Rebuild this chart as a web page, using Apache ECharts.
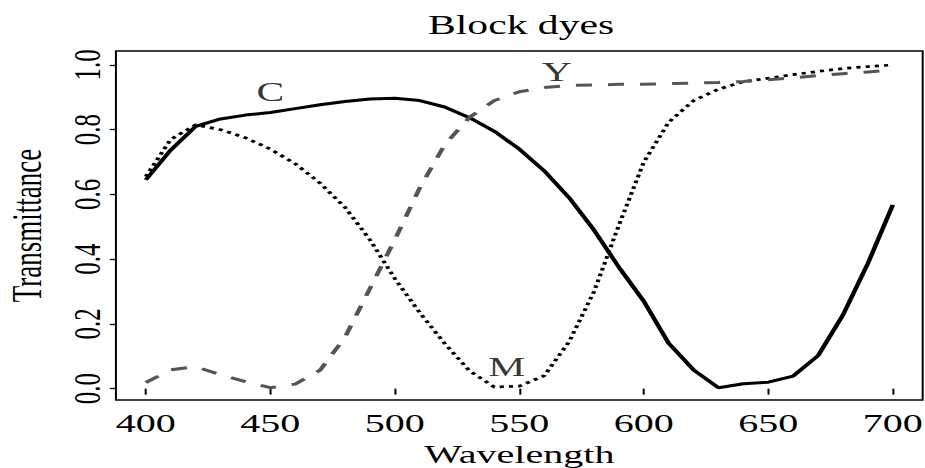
<!DOCTYPE html>
<html>
<head>
<meta charset="utf-8">
<script src="https://cdn.jsdelivr.net/npm/echarts@6/dist/echarts.min.js"></script>
<style>
html,body{margin:0;padding:0;background:#fff;}
#wrap{width:925px;height:468px;overflow:hidden;position:relative;}
#chart{width:600px;height:468px;transform:scaleX(1.5416667);transform-origin:0 0;}
</style>
</head>
<body>
<div id="wrap"><div id="chart"></div></div>
<script>
// Data
var wavelengths = [400,410,420,430,440,450,460,470,480,490,500,510,520,530,540,550,560,570,580,590,600,610,620,630,640,650,660,670,680,690,700];
var cyanDye = [0.645,0.737,0.81,0.833,0.845,0.853,0.865,0.877,0.887,0.895,0.897,0.89,0.87,0.837,0.795,0.74,0.673,0.59,0.49,0.375,0.27,0.14,0.058,0.003,0.015,0.02,0.039,0.102,0.228,0.387,0.568];
var magentaDye = [0.655,0.77,0.815,0.80,0.775,0.74,0.695,0.635,0.56,0.46,0.34,0.235,0.14,0.055,0.005,0.008,0.04,0.145,0.30,0.505,0.70,0.823,0.89,0.925,0.948,0.959,0.97,0.98,0.989,0.995,1.0];
var yellowDye = [0.019,0.058,0.068,0.043,0.022,0.003,0.014,0.057,0.159,0.309,0.46,0.62,0.753,0.838,0.89,0.917,0.93,0.937,0.938,0.94,0.94,0.942,0.944,0.946,0.949,0.954,0.96,0.967,0.973,0.978,0.985];
var xTicks = [400,450,500,550,600,650,700];
var yTicks = [0,0.2,0.4,0.6,0.8,1.0];
var curveNames = ['C','M','Y'];
var curveLabelX = [450,545,565];
var curveLabelY = [0.915,0.067,0.978];

var SERIF = '"Liberation Serif","Times New Roman",serif';
function pairs(ys){ return wavelengths.map(function(w,i){ return [w, ys[i]]; }); }

var chart = echarts.init(document.getElementById('chart'), null, {renderer:'svg'});
chart.setOption({
  animation:false,
  backgroundColor:'#fff',
  title:{
    text:'Block dyes', left:333, top:7, textAlign:'center',
    textStyle:{fontFamily:SERIF, fontSize:27, fontWeight:'normal', color:'#000'}
  },
  grid:{left:75.2, right:1.5, top:51, bottom:68, show:true, borderColor:'#000', borderWidth:1.3,
    backgroundColor:'transparent', containLabel:false, outerBoundsMode:'none'},
  xAxis:{
    type:'value', min:388, max:712,
    name:'Wavelength', nameLocation:'middle', nameGap:41,
    nameTextStyle:{fontFamily:SERIF, fontSize:26, color:'#000'},
    axisLine:{show:false},
    axisTick:{show:true, customValues:xTicks, length:6, lineStyle:{color:'#000', width:1.3}},
    axisLabel:{customValues:xTicks, fontFamily:SERIF, fontSize:26, color:'#000', margin:10},
    splitLine:{show:false}
  },
  yAxis:{
    type:'value', min:-0.035, max:1.043,
    name:'Transmittance', nameLocation:'middle', nameGap:44, nameRotate:90,
    nameTextStyle:{fontFamily:SERIF, fontSize:27, color:'#000'},
    axisLine:{show:false},
    axisTick:{show:true, customValues:yTicks, length:4, lineStyle:{color:'#000', width:1.3}},
    axisLabel:{customValues:yTicks, rotate:90, fontFamily:SERIF, fontSize:25, color:'#000', margin:6,
      formatter:function(v){ return v.toFixed(1); }},
    splitLine:{show:false}
  },
  series:[
    {name:'C', type:'line', data:pairs(cyanDye), symbol:'none', smooth:false,
      lineStyle:{color:'#000', width:3}},
    {name:'M', type:'line', data:pairs(magentaDye), symbol:'none', smooth:false,
      lineStyle:{color:'#000', width:2.7, type:[2.7,3.3]}},
    {name:'Y', type:'line', data:pairs(yellowDye), symbol:'none', smooth:false,
      lineStyle:{color:'#555', width:3, type:[10.4,10.4]}},
    {name:'labels', type:'scatter', silent:true, symbolSize:1,
      itemStyle:{color:'transparent'},
      data:curveNames.map(function(n,i){ return [curveLabelX[i], curveLabelY[i], n]; }),
      label:{show:true, position:'inside', formatter:function(p){ return p.data[2]; },
        fontFamily:SERIF, fontSize:27, color:'#000'}}
  ]
});
</script>
</body>
</html>
